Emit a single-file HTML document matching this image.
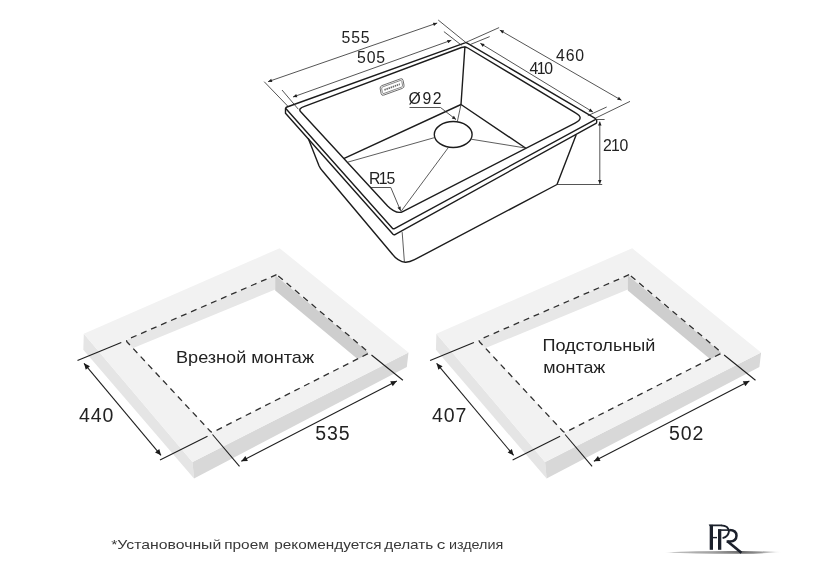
<!DOCTYPE html>
<html lang="ru">
<head>
<meta charset="utf-8">
<title>Схема мойки</title>
<style>
  html, body { margin: 0; padding: 0; background: #ffffff; }
  body { width: 840px; height: 573px; overflow: hidden; font-family: "Liberation Sans", sans-serif; }
  svg { display: block; position: absolute; left: 0; top: 0; will-change: transform; }
  text { font-family: "Liberation Sans", sans-serif; fill: #222222; }
  .thick { fill: none; stroke: #1c1c1c; stroke-width: 1.4; stroke-linejoin: round; stroke-linecap: round; }
  .mid   { fill: none; stroke: #2a2a2a; stroke-width: 0.95; stroke-linejoin: round; stroke-linecap: round; }
  .thin  { fill: none; stroke: #333333; stroke-width: 0.8; stroke-linecap: round; }
  .dim   { fill: none; stroke: #2a2a2a; stroke-width: 0.8; }
  .sdim  { fill: none; stroke: #1f1f1f; stroke-width: 1.1; }
  .dash  { fill: none; stroke: #303030; stroke-width: 1.3; stroke-dasharray: 6 4.9; }
  .num   { font-size: 15.8px; letter-spacing: 0.9px; }
  .bnum  { font-size: 19.5px; letter-spacing: 0.9px; }
  .lbl   { font-size: 17px; }
  .foot  { font-size: 13.6px; fill: #383838; }
</style>
</head>
<body>
<svg width="840" height="573" viewBox="0 0 840 573">
  <defs>
    <marker id="ar" viewBox="0 0 10 10" refX="10" refY="5" markerWidth="6.4" markerHeight="4" markerUnits="userSpaceOnUse" orient="auto-start-reverse">
      <path d="M0,0.6 L10,5 L0,9.4 Z" fill="#1f1f1f"/>
    </marker>
    <marker id="arb" viewBox="0 0 10 10" refX="10" refY="5" markerWidth="8.5" markerHeight="6" markerUnits="userSpaceOnUse" orient="auto-start-reverse">
      <path d="M0,0.4 L10,5 L0,9.6 Z" fill="#1a1a1a"/>
    </marker>
    <linearGradient id="ul" x1="0" y1="0" x2="1" y2="0">
      <stop offset="0" stop-color="#c4c4c4" stop-opacity="0"/>
      <stop offset="0.08" stop-color="#b8b8b8" stop-opacity="0.9"/>
      <stop offset="0.42" stop-color="#a0a0a0" stop-opacity="1"/>
      <stop offset="0.66" stop-color="#6c6c6c" stop-opacity="1"/>
      <stop offset="0.82" stop-color="#8c8c8c" stop-opacity="0.9"/>
      <stop offset="1" stop-color="#bdbdbd" stop-opacity="0"/>
    </linearGradient>

    <clipPath id="holeclip">
      <path d="M276.5,274.7 L128,339.2 Q125.6,340.3 127.3,342.2 L210.3,431.3 Q211.6,432.8 213.6,431.8 L363.5,356.3 Q372.6,352 366.3,350.4 L277.8,275.6 Q276.9,274.5 276.5,274.7 Z"/>
    </clipPath>
    <!-- countertop slab (shared by both mounting schemes) -->
    <g id="slab">
      <!-- front-left face -->
      <path d="M83.8,333.7 L192.5,462 L194,478.5 L83.3,349.8 Z" fill="#e5e5e5"/>
      <!-- front-right face -->
      <path d="M192.5,462 L408.5,352.5 L406.8,367 L194,478.5 Z" fill="#d8d8d8"/>
      <!-- top face with hole -->
      <path fill-rule="evenodd" fill="#f2f2f2"
            d="M83.8,333.7 L279.6,248.2 L408.5,352.5 L192.5,462 Z
               M126,340 L211.5,432.5 L369,353 L275.2,275.2 Z"/>
      <!-- inner walls seen through the hole -->
      <g clip-path="url(#holeclip)">
        <path d="M120,342.6 L275.2,275.2 L275.2,289.5 L120,353.5 Z" fill="#e7e7e7"/>
        <path d="M275.2,275.2 L375,358 L375,373.6 L275.2,290.4 Z" fill="#cecece"/>
      </g>
      <!-- dashed cut-out contour -->
      <path class="dash" d="M276.5,274.7 L128,339.2 Q125.6,340.3 127.3,342.2 L210.3,431.3 Q211.6,432.8 213.6,431.8 L367.5,353.9 Q369.6,352.9 367.8,351.6 L277.8,275.6"/>
    </g>
  </defs>

  <!-- ======================= SLABS ======================= -->
  <use href="#slab"/>
  <use href="#slab" transform="translate(352.6,0)"/>

  <!-- left slab dimensions -->
  <g class="sdim">
    <line x1="77.5" y1="360.5" x2="121.3" y2="342.4"/>
    <line x1="160" y1="460" x2="207.5" y2="436.3"/>
    <line x1="84" y1="363.3" x2="161" y2="455.3" marker-start="url(#arb)" marker-end="url(#arb)"/>
    <line x1="212.5" y1="434.5" x2="239.5" y2="466.3"/>
    <line x1="371.5" y1="355" x2="402.9" y2="380.3"/>
    <line x1="241.3" y1="461.3" x2="396.8" y2="381" marker-start="url(#arb)" marker-end="url(#arb)"/>
  </g>
  <!-- right slab dimensions -->
  <g class="sdim" transform="translate(352.6,0)">
    <line x1="77.5" y1="360.5" x2="121.3" y2="342.4"/>
    <line x1="160" y1="460" x2="207.5" y2="436.3"/>
    <line x1="84" y1="363.3" x2="161" y2="455.3" marker-start="url(#arb)" marker-end="url(#arb)"/>
    <line x1="212.5" y1="434.5" x2="239.5" y2="466.3"/>
    <line x1="371.5" y1="355" x2="402.9" y2="380.3"/>
    <line x1="241.3" y1="461.3" x2="396.8" y2="381" marker-start="url(#arb)" marker-end="url(#arb)"/>
  </g>

  <text class="bnum" x="79" y="422">440</text>
  <text class="bnum" x="315.3" y="439.5">535</text>
  <text class="bnum" x="432" y="422">407</text>
  <text class="bnum" x="669" y="439.5">502</text>

  <text class="lbl" x="176" y="363.4" textLength="138" lengthAdjust="spacingAndGlyphs">Врезной монтаж</text>
  <text class="lbl" x="542.4" y="351.4" textLength="113" lengthAdjust="spacingAndGlyphs">Подстольный</text>
  <text class="lbl" x="543.3" y="373.2" textLength="62" lengthAdjust="spacingAndGlyphs">монтаж</text>

  <!-- ======================= SINK ======================= -->
  <!-- rim top face -->
  <path class="thick" d="M287,107 L465,42.8 Q465.9,42.4 466.8,42.9 L595.2,118.4 Q596.3,119 595.2,119.7 L394.5,228.6 Q393.3,229.2 392.4,228.2 L286,108.8 Q285.2,107.7 287,107 Z"/>
  <!-- rim underside edge -->
  <path class="thick" d="M285.5,108.5 L285.5,113.3 L393,234.3 Q394,235.2 395.4,234.3 L596,123.4 Q597,122.8 596.6,120"/>
  <!-- bowl top contour -->
  <path class="thick" d="M304.5,106.3 L461.5,47.5 Q464.8,46.2 467.8,48 L575.5,112.8 Q585,118 575,123.1 L403.2,211.3 Q396.6,215 387.6,206 L300.5,111.5 Q298,108.6 304.5,106.3 Z"/>
  <!-- bowl inside -->
  <path class="thick" d="M464.9,47 L461,104.5"/>
  <path class="thick" d="M344.2,158.3 L461,104.5 L525.5,148"/>
  <ellipse class="thick" cx="453.2" cy="134.5" rx="18.9" ry="13"/>
  <!-- creases -->
  <g class="thin">
    <line x1="457.3" y1="121.8" x2="461" y2="104.5"/>
    <line x1="434.6" y1="137.6" x2="348.3" y2="162"/>
    <line x1="471.8" y1="139.3" x2="525.5" y2="148"/>
    <line x1="448.6" y1="147.2" x2="401.3" y2="211"/>
  </g>
  <!-- body under the rim -->
  <path class="thick" d="M308.4,138.8 L319,165.8 Q320.3,168.8 322.5,171 L391.8,253.5 Q398,261.8 405.5,262.2 Q409.5,262.3 414.5,259.7 L557,184.5 L576,135.2"/>
  <path class="thin" d="M402.2,232.5 L404.4,261.9"/>

  <!-- logo badge on the sink wall -->
  <g transform="translate(392.1,87) rotate(-20) skewX(-9)" fill="none" stroke="#5a5a5a">
    <rect x="-12.2" y="-4.8" width="24.4" height="9.6" rx="2.4" stroke-width="0.8"/>
    <rect x="-10.7" y="-3.3" width="21.4" height="6.6" rx="1.5" stroke-width="0.65"/>
    <line x1="-8.2" y1="0" x2="8.2" y2="0" stroke-width="1.7" stroke-dasharray="1.5 0.7" stroke="#6a6a6a"/>
  </g>

  <!-- sink dimensions -->
  <g class="dim">
    <!-- 555 -->
    <line x1="264.2" y1="81.7" x2="288.3" y2="106.7"/>
    <line x1="438.2" y1="20" x2="466.5" y2="43"/>
    <line x1="268" y1="81.7" x2="437.2" y2="23" marker-start="url(#ar)" marker-end="url(#ar)"/>
    <!-- 505 -->
    <line x1="282" y1="90" x2="298.3" y2="109.2"/>
    <line x1="443.9" y1="31.6" x2="461.5" y2="45.2"/>
    <line x1="293" y1="97" x2="451.4" y2="40.2" marker-start="url(#ar)" marker-end="url(#ar)"/>
    <!-- 460 -->
    <line x1="465.9" y1="42.4" x2="499.1" y2="27.6"/>
    <line x1="595.4" y1="118.2" x2="630" y2="101.4"/>
    <line x1="499.8" y1="30.1" x2="621.5" y2="100.3" marker-start="url(#ar)" marker-end="url(#ar)"/>
    <!-- 410 -->
    <line x1="470.3" y1="44.5" x2="489.7" y2="36.6"/>
    <line x1="587.8" y1="115.7" x2="606.7" y2="107"/>
    <line x1="480.3" y1="43.3" x2="592.9" y2="112" marker-start="url(#ar)" marker-end="url(#ar)"/>
    <!-- 210 -->
    <line x1="595.4" y1="119.5" x2="604.6" y2="119.5"/>
    <line x1="557" y1="184.5" x2="602.2" y2="184.5"/>
    <line x1="599.8" y1="121.6" x2="599.8" y2="183.9" marker-start="url(#ar)" marker-end="url(#ar)"/>
    <!-- Ø92 -->
    <polyline points="409.5,107.5 440.5,107.5 456,119.6" marker-end="url(#ar)"/>
    <!-- R15 -->
    <polyline points="370.5,187.5 390.8,187.5 400.6,210.8" marker-end="url(#ar)"/>
  </g>

  <text class="num" x="341.5" y="42.8">555</text>
  <text class="num" x="357" y="62.9">505</text>
  <text class="num" x="556" y="61.2">460</text>
  <text class="num" x="529.5" y="74.2">4<tspan dx="-2.4">1</tspan><tspan dx="-2.2">0</tspan></text>
  <text class="num" x="603" y="151.3">2<tspan dx="-1.7">1</tspan><tspan dx="-1.3">0</tspan></text>
  <text class="num" x="408.6" y="103.7" style="letter-spacing:1.6px">Ø92</text>
  <text class="num" x="369" y="184">R<tspan dx="-2.6">1</tspan><tspan dx="-1.8">5</tspan></text>

  <!-- ======================= FOOTER ======================= -->
  <text class="foot" x="111.2" y="548.8" textLength="110.1" lengthAdjust="spacingAndGlyphs">*Установочный</text>
  <text class="foot" x="224.2" y="548.8" textLength="44.6" lengthAdjust="spacingAndGlyphs">проем</text>
  <text class="foot" x="274.2" y="548.8" textLength="107.4" lengthAdjust="spacingAndGlyphs">рекомендуется</text>
  <text class="foot" x="384.2" y="548.8" textLength="49.1" lengthAdjust="spacingAndGlyphs">делать</text>
  <text class="foot" x="436.7" y="548.8" textLength="8.6" lengthAdjust="spacingAndGlyphs">с</text>
  <text class="foot" x="448.9" y="548.8" textLength="54.4" lengthAdjust="spacingAndGlyphs">изделия</text>

  <!-- PR logo -->
  <g>
    <path d="M664,552.4 Q700,550.9 742,551.1 Q765,551.3 782,551.9 Q765,553.5 742,553.7 Q700,553.9 664,552.4 Z" fill="url(#ul)"/>
    <g fill="#1b202b" stroke="none">
      <!-- P -->
      <rect x="709.7" y="524.8" width="3.3" height="25"/>
      <path d="M708.7,524.6 L721.5,524.6 L721.5,526.2 L709.7,526.2 Z"/>
      <rect x="712.8" y="536.9" width="4.2" height="1.4"/>
      <!-- R -->
      <rect x="718" y="529.3" width="3.3" height="20.5"/>
      <rect x="718" y="529.3" width="12.5" height="1.6"/>
    </g>
    <g fill="none" stroke="#1b202b">
      <path d="M721,525.4 Q728.6,525.6 728.9,531.4 Q728.6,536.6 722.6,538.1" stroke-width="1.9"/>
      <path d="M729.5,530.1 Q736.4,530.3 736.5,535.7 Q736.3,541.2 730,541.6 L726.6,541.6" stroke-width="2.5"/>
      <path d="M727.4,541.2 L741.4,552.7" stroke-width="2.7"/>
    </g>
  </g>
</svg>
</body>
</html>
